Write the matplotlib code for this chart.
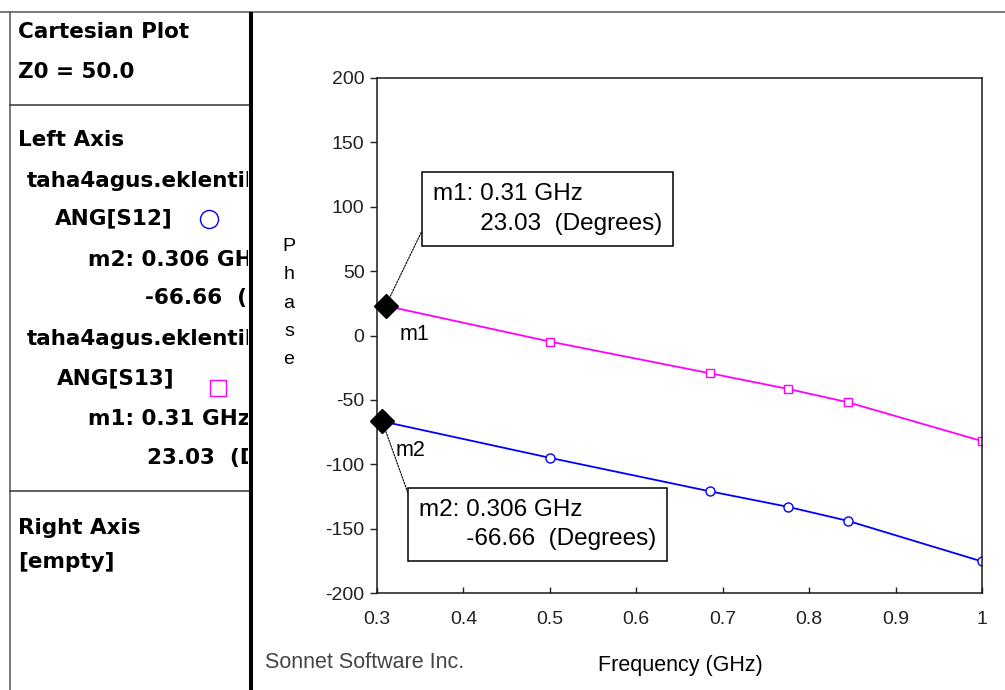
#!/usr/bin/env python3

import matplotlib
matplotlib.use('Agg')
import matplotlib.pyplot as plt

# Phase sweep of the two traces (frequency in GHz, phase in degrees)
s13_freq = [0.31, 0.5, 0.685, 0.775, 0.845, 1.0]
s13_phase = [23.03, -4.7, -29.3, -41.4, -51.9, -82.0]
s12_freq = [0.306, 0.5, 0.685, 0.775, 0.845, 1.0]
s12_phase = [-66.66, -95.0, -121.0, -133.0, -144.0, -175.5]

# Data markers placed on the traces
marker_names = ['m1', 'm2']
marker_freq = [0.31, 0.306]
marker_phase = [23.03, -66.66]

x_ticks = [0.3, 0.4, 0.5, 0.6, 0.7, 0.8, 0.9, 1.0]
x_tick_labels = ['0.3', '0.4', '0.5', '0.6', '0.7', '0.8', '0.9', '1']
y_ticks = [-200, -150, -100, -50, 0, 50, 100, 150, 200]

file_name = 'taha4agus.eklentiler'

W, H = 1005, 690
PINK = '#ff00ff'
BLUE = '#0000ff'

plt.rcParams['axes.unicode_minus'] = False


def px(x, y):
    """pixel position (from top-left) -> figure fraction"""
    return x / W, 1 - y / H


def draw_frame(fig):
    """Window borders around the info panel"""
    frame = fig.add_axes([0, 0, 1, 1])
    frame.set_xlim(0, W)
    frame.set_ylim(H, 0)
    frame.axis('off')
    frame.patch.set_visible(False)
    frame.plot([0, W], [11.5, 11.5], color='#555555', lw=1.1)
    frame.plot([10, 10], [11.5, H], color='#555555', lw=1.1)
    frame.plot([10, 250], [105, 105], color='#333333', lw=1.1)
    frame.plot([10, 250], [491, 491], color='#333333', lw=1.1)
    frame.plot([250.5, 250.5], [11.5, H], color='black', lw=2.9, solid_capstyle='butt')


def draw_panel(fig):
    """Left info panel listing the traces and markers"""
    panel = fig.add_axes([10 / W, 0, 238 / W, (H - 12) / H])
    panel.set_xlim(10, 248)
    panel.set_ylim(H, 12)
    panel.axis('off')
    panel.patch.set_visible(False)

    m1 = f'{marker_names[0]}: {marker_freq[0]:g} GHz'
    m2 = f'{marker_names[1]}: {marker_freq[1]:g} GHz'
    rows = [
        ('Cartesian Plot', 18, 32),
        ('Z0 = 50.0', 18, 72),
        ('Left Axis', 18, 140),
        (file_name, 27, 181),
        ('ANG[S12]', 55, 218),
        (m2, 88, 260),
        (f'{marker_phase[1]:.2f}  (De', 145, 298),
        (file_name, 27, 339),
        ('ANG[S13]', 57, 378),
        (m1, 88, 419),
        (f'{marker_phase[0]:.2f}  (De', 147, 458),
        ('Right Axis', 18, 528),
        ('[empty]', 18, 562),
    ]
    for txt, x, y in rows:
        panel.text(x, y, txt, ha='left', va='center', fontsize=15.5,
                   fontweight='bold', family='DejaVu Sans', clip_on=True)

    # legend symbols
    panel.plot([209], [219], 'o', ms=13, mfc='none', mec=BLUE, mew=1)
    panel.plot([218], [388], 's', ms=12, mfc='none', mec=PINK, mew=1)


def draw_plot(fig):
    ax = fig.add_axes([377 / W, 97 / H, 605 / W, 515 / H])

    ax.plot(s13_freq, s13_phase, color=PINK, lw=1.3, marker='s', ms=6,
            mfc='white', mec=PINK, mew=1)
    ax.plot(s12_freq, s12_phase, color=BLUE, lw=1.3, marker='o', ms=6.5,
            mfc='white', mec=BLUE, mew=1)

    ax.plot(marker_freq, marker_phase, 'D', color='black', ms=12,
            clip_on=False, zorder=6)

    # marker readouts: box offset and label offset, in pixels
    box_offsets = [(47, 97), (37, -103)]
    label_offsets = [(14, -29), (13, -29)]
    for name, f, p, boff, loff in zip(marker_names, marker_freq, marker_phase,
                                      box_offsets, label_offsets):
        ax.annotate(f'{name}: {f:g} GHz\n       {p:.2f}  (Degrees)',
                    xy=(f, p), xytext=boff, textcoords='offset pixels',
                    ha='left', va='center', fontsize=17.5,
                    family='Liberation Sans', linespacing=1.44, zorder=4,
                    bbox=dict(boxstyle='square,pad=0.45', fc='white',
                              ec='black', lw=1.1),
                    arrowprops=dict(arrowstyle='-', color='black', lw=0.8,
                                    linestyle=(0, (1.5, 1.2)), relpos=(0, 0.5),
                                    shrinkA=0, shrinkB=0))
        ax.annotate(name, xy=(f, p), xytext=loff, textcoords='offset pixels',
                    ha='left', va='center', fontsize=15.5,
                    family='Liberation Sans', zorder=4)

    ax.set_xlim(0.3, 1.0)
    ax.set_ylim(-200, 200)
    ax.set_xticks(x_ticks)
    ax.set_xticklabels(x_tick_labels)
    ax.set_yticks(y_ticks)
    for lab in ax.get_xticklabels() + ax.get_yticklabels():
        lab.set_family('Liberation Sans')

    ax.tick_params(axis='y', direction='out', length=5, width=1, pad=4,
                   labelsize=14, colors='#222222')
    ax.tick_params(axis='x', direction='in', length=4.5, width=1, pad=13,
                   labelsize=14, colors='#222222')
    for side in ['left', 'bottom', 'top', 'right']:
        ax.spines[side].set_linewidth(1.1)
        ax.spines[side].set_color('#1a1a1a')

    fig.text(*px(289, 303), 'P\nh\na\ns\ne', ha='center', va='center',
             fontsize=14, linespacing=1.85, family='Liberation Sans')
    fig.text(*px(680, 665), 'Frequency (GHz)', ha='center', va='center',
             fontsize=15.5, family='Liberation Sans')
    fig.text(*px(265, 662), 'Sonnet Software Inc.', ha='left', va='center',
             fontsize=15.5, family='Liberation Sans', color='#444444')


def main():
    fig = plt.figure(figsize=(W / 100, H / 100), dpi=100)
    fig.patch.set_facecolor('white')
    draw_plot(fig)
    draw_panel(fig)
    draw_frame(fig)
    fig.savefig('out.png', dpi=100)


if __name__ == "__main__":
    main()
